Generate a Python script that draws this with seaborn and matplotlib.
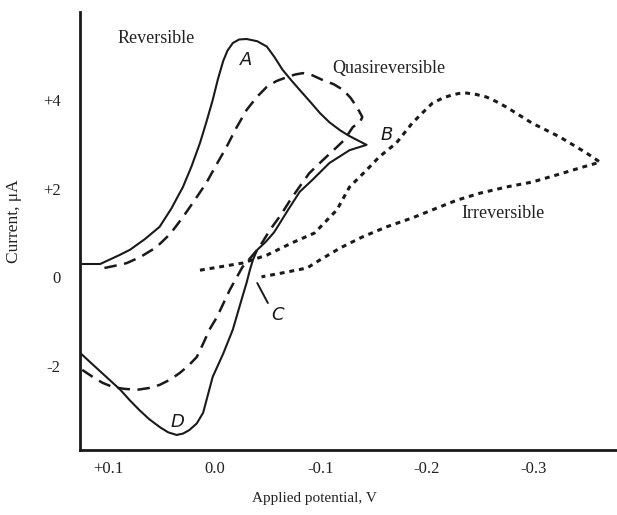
import matplotlib.pyplot as plt
import pandas as pd
import seaborn as sns

# Applied potential (V) and current (uA)
# Reversible: forward sweep, then return sweep
rev_E = [0.125, 0.108, 0.099, 0.090, 0.080, 0.066, 0.052, 0.041, 0.030, 0.022,
         0.014, 0.008, 0.002, -0.003, -0.008, -0.012, -0.017, -0.023, -0.030, -0.040,
         -0.049, -0.056, -0.064, -0.072, -0.080, -0.090, -0.099, -0.108, -0.118, -0.126,
         -0.134, -0.143,
         -0.127, -0.108, -0.092, -0.080, -0.069, -0.056, -0.048, -0.040, -0.036, -0.033,
         -0.030, -0.026, -0.017, -0.008, 0.002, 0.007, 0.011, 0.017, 0.024, 0.030,
         0.036, 0.044, 0.052, 0.062, 0.071, 0.080, 0.089, 0.110, 0.130]
rev_I = [0.30, 0.30, 0.40, 0.50, 0.62, 0.86, 1.14, 1.55, 2.04, 2.50,
         3.03, 3.50, 4.00, 4.48, 4.89, 5.12, 5.29, 5.37, 5.38, 5.33,
         5.21, 4.98, 4.68, 4.45, 4.23, 3.96, 3.71, 3.50, 3.32, 3.20,
         3.10, 2.99,
         2.87, 2.58, 2.20, 1.93, 1.52, 1.02, 0.80, 0.62, 0.40, 0.16,
         -0.12, -0.44, -1.18, -1.72, -2.25, -2.70, -3.06, -3.30, -3.45, -3.53,
         -3.56, -3.50, -3.38, -3.20, -3.00, -2.78, -2.54, -2.08, -1.64]

# Quasireversible
quasi_E = [0.104, 0.094, 0.083, 0.070, 0.055, 0.042, 0.030, 0.019, 0.008, -0.001,
           -0.011, -0.020, -0.030, -0.040, -0.049, -0.058, -0.068, -0.076, -0.083, -0.092,
           -0.102, -0.112, -0.121, -0.128, -0.134, -0.139, -0.137, -0.130,
           -0.122, -0.115, -0.102, -0.089, -0.080, -0.071, -0.062, -0.052, -0.042, -0.034,
           -0.026, -0.014, -0.002, 0.005, 0.011, 0.017, 0.025, 0.033, 0.042, 0.052,
           0.062, 0.073, 0.085, 0.096, 0.106, 0.115, 0.125]
quasi_I = [0.21, 0.26, 0.32, 0.46, 0.68, 0.98, 1.36, 1.74, 2.13, 2.52,
           2.94, 3.36, 3.78, 4.08, 4.30, 4.43, 4.52, 4.58, 4.61, 4.56,
           4.45, 4.36, 4.23, 4.05, 3.84, 3.62, 3.51, 3.39,
           3.10, 2.94, 2.65, 2.35, 2.05, 1.74, 1.40, 1.07, 0.68, 0.45,
           0.23, -0.29, -0.90, -1.18, -1.50, -1.80, -2.00, -2.16, -2.31, -2.43,
           -2.50, -2.54, -2.52, -2.48, -2.38, -2.25, -2.09]

# Irreversible
irr_E = [0.014, -0.026, -0.049, -0.073, -0.094, -0.115, -0.127, -0.143, -0.155, -0.171,
         -0.186, -0.196, -0.205, -0.215, -0.224, -0.230, -0.237, -0.246, -0.256, -0.265,
         -0.275, -0.299, -0.325, -0.350, -0.363,
         -0.347, -0.322, -0.299, -0.275, -0.250, -0.228, -0.209, -0.186, -0.162,
         -0.139, -0.118, -0.099, -0.087, -0.064, -0.044]
irr_I = [0.16, 0.32, 0.50, 0.78, 1.00, 1.52, 2.04, 2.42, 2.72, 3.03,
         3.48, 3.72, 3.93, 4.05, 4.12, 4.15, 4.16, 4.13, 4.07, 3.97,
         3.84, 3.48, 3.17, 2.81, 2.60,
         2.49, 2.31, 2.15, 2.04, 1.90, 1.74, 1.56, 1.34, 1.14,
         0.91, 0.66, 0.39, 0.21, 0.10, 0.01]

x_ticks = [0.1, 0.0, -0.1, -0.2, -0.3]
x_tick_labels = ['+0.1', '0.0', '-0.1', '-0.2', '-0.3']
y_ticks = [4, 2, 0, -2]
y_tick_labels = ['+4', '+2', '0', '-2']

sns.set_style('white')
plt.rcParams['font.family'] = ['Liberation Serif', 'DejaVu Serif']

fig = plt.figure(figsize=(6.17, 5.15), dpi=100)
ax = fig.add_axes([0.1297, 0.1262, 0.8703, 0.8505])

curves = [
    (rev_E, rev_I, '-', 1.5),
    (quasi_E, quasi_I, (0, (5, 3)), 1.8),
    (irr_E, irr_I, (0, (1.6, 1.6)), 2.2),
]
for E, I, ls, lw in curves:
    df = pd.DataFrame({'E': E, 'I': I})
    sns.lineplot(data=df, x='E', y='I', sort=False, estimator=None,
                 color='#1a1a1a', linestyle=ls, linewidth=lw, ax=ax)

ax.set_xlim(0.127, -0.379)
ax.set_ylim(-3.90, 5.99)

ax.set_xticks(x_ticks, x_tick_labels)
ax.set_yticks(y_ticks, y_tick_labels)
ax.tick_params(axis='both', direction='in', length=11, width=1.8,
               color='#1a1a1a', labelsize=12, labelcolor='#222222')
ax.tick_params(axis='y', pad=14)
ax.tick_params(axis='x', pad=8)

for side in ['top', 'right']:
    ax.spines[side].set_visible(False)
for side in ['left', 'bottom']:
    ax.spines[side].set_linewidth(2.0)
    ax.spines[side].set_color('#1a1a1a')

ax.set_xlabel('Applied potential, V', fontsize=11, color='#222222')
ax.set_ylabel('Current, μA', fontsize=12.5, color='#222222')
ax.xaxis.set_label_coords(0.436, -0.096)
ax.yaxis.set_label_coords(-0.108, 0.523)

ax.text(0.055, 5.40, 'Reversible', fontsize=13, ha='center', va='center', color='#222222')
ax.text(-0.164, 4.72, 'Quasireversible', fontsize=13, ha='center', va='center', color='#222222')
ax.text(-0.272, 1.45, 'Irreversible', fontsize=13, ha='center', va='center', color='#222222')

for lab, ex, iy in [('A', -0.030, 4.91), ('B', -0.162, 3.21),
                    ('C', -0.059, -0.85), ('D', 0.035, -3.27)]:
    ax.text(ex, iy, lab, fontsize=13, style='italic',
            ha='center', va='center', color='#1a1a1a',
            family=['DejaVu Sans'])
ax.plot([-0.040, -0.050], [-0.13, -0.58], color='#1a1a1a', lw=1.4)

fig.savefig('out.png', dpi=100)
